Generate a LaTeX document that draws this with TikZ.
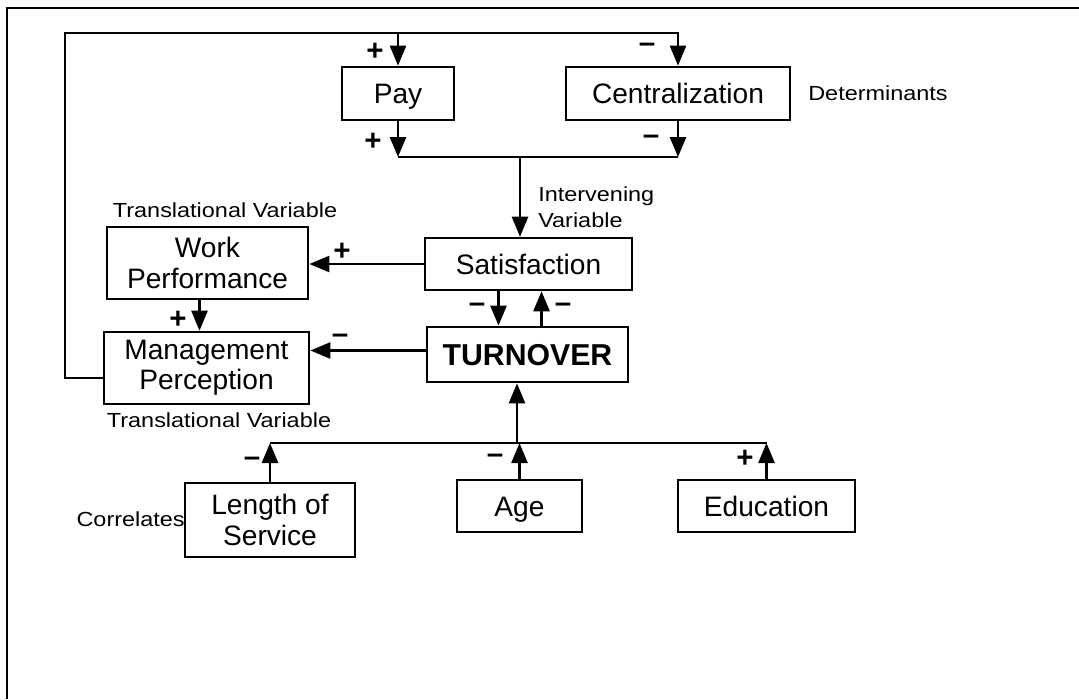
\documentclass[tikz,border=0pt]{standalone}
\usepackage{fontspec}
\setmainfont{Liberation Sans}
\newfontfamily\etiqfont[FakeStretch=1.15]{Liberation Sans}
\usetikzlibrary{arrows.meta}
\begin{document}
\begin{tikzpicture}[x=0.025cm, y=-0.025cm]
\tikzset{boite/.style={draw, line width=1.8pt, inner sep=0pt, align=center, font=\fontsize{20}{21.5}\selectfont},
  ligne/.style={text height=14.3pt, text depth=0pt},
  fleche/.style={line width=1.8pt, -{Triangle[length=0.5cm, width=0.4cm]}},
  trait/.style={line width=1.8pt},
  signe/.style={inner sep=0pt, font=\fontsize{21}{21}\selectfont\bfseries},
  etiq/.style={inner sep=0pt, align=left, font=\etiqfont\fontsize{14.5}{19}\selectfont}}
\useasboundingbox (0,0) rectangle (1079,699);
\draw[line width=1.8pt] (7,699) -- (7,8) -- (1079,8);
\node[boite, ligne, minimum width=2.8cm, minimum height=1.33cm] (pay) at (398,93.5) {Pay};
\node[boite, ligne, minimum width=5.6cm, minimum height=1.33cm] (central) at (678,93.5) {Centralization};
\node[boite, ligne, minimum width=5.18cm, minimum height=1.3cm] (satis) at (528.5,264) {Satisfaction};
\node[boite, ligne, minimum width=5.03cm, minimum height=1.38cm, text height=15.4pt, font=\fontsize{21.5}{23}\selectfont\bfseries] (turn) at (527.5,354.5) {TURNOVER};
\node[boite, minimum width=5.03cm, minimum height=1.8cm] (work) at (207.5,263) {Work\\Performance};
\node[boite, minimum width=5.13cm, minimum height=1.8cm] (manage) at (206.5,368) {Management\\Perception};
\node[boite, minimum width=4.25cm, minimum height=1.85cm] (length) at (270,520) {Length of\\Service};
\node[boite, ligne, minimum width=3.13cm, minimum height=1.3cm] (age) at (519.5,506) {Age};
\node[boite, ligne, minimum width=4.43cm, minimum height=1.3cm] (educ) at (766.5,506) {Education};
\node[etiq, anchor=west] (determ) at (808,93) {Determinants};
\node[etiq, anchor=north west] (interv) at (538,186) {Intervening\\Variable};
\node[etiq] (transH) at (225,210) {Translational Variable};
\node[etiq] (transB) at (219,420) {Translational Variable};
\node[etiq, anchor=east] (correl) at (185,519) {Correlates};
\coordinate (hautG) at (65,33);
\coordinate (milieu) at (520,157);
\coordinate (bus) at (517,443);
\draw[fleche] ([yshift=-0.25cm]manage.west) -| (hautG) -| (central.north);
\draw[fleche] (pay.north |- hautG) -- (pay.north);
\draw[fleche] (pay.south) -- (pay.south |- milieu);
\draw[fleche] (central.south) -- (central.south |- milieu);
\draw[trait] (pay.south |- milieu) -- (central.south |- milieu);
\draw[fleche] (milieu) -- (milieu |- satis.north);
\draw[fleche] (satis.west) -- (satis.west -| work.east);
\draw[fleche] ([xshift=-0.2cm]work.south) -- ([xshift=-0.2cm]work.south |- manage.north);
\draw[fleche] ([yshift=0.1cm]turn.west) -- ([yshift=0.1cm]turn.west -| manage.east);
\draw[fleche] ([xshift=-0.75cm]satis.south) -- ([xshift=-0.75cm]satis.south |- turn.north);
\draw[fleche] ([xshift=0.35cm]turn.north) -- ([xshift=0.35cm]turn.north |- satis.south);
\draw[fleche] (bus) -- (bus |- turn.south);
\draw[trait] (length.north |- bus) -- (educ.north |- bus);
\draw[fleche] (length.north) -- (length.north |- bus);
\draw[fleche] (age.north) -- (age.north |- bus);
\draw[fleche] (educ.north) -- (educ.north |- bus);
\node[signe] (s1) at (375,52) {+};
\node[signe] (s2) at (647,48) {\textendash};
\node[signe] (s3) at (373,142) {+};
\node[signe] (s4) at (651,140) {\textendash};
\node[signe] (s5) at (342,252) {+};
\node[signe] (s6) at (178,320) {+};
\node[signe] (s7) at (340,339) {\textendash};
\node[signe] (s8) at (477,308) {\textendash};
\node[signe] (s9) at (563,308) {\textendash};
\node[signe] (s10) at (252,462) {\textendash};
\node[signe] (s11) at (495,459) {\textendash};
\node[signe] (s12) at (745,459) {+};
\end{tikzpicture}
\end{document}
